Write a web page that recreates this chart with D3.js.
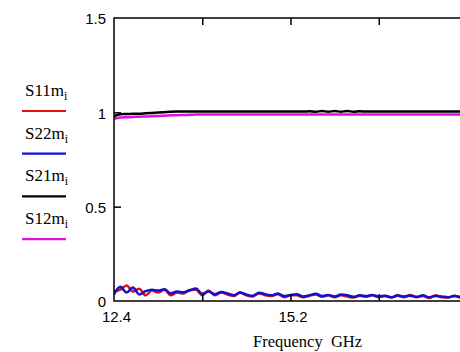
<!DOCTYPE html>
<html><head><meta charset="utf-8">
<script src="https://cdn.jsdelivr.net/npm/d3@7/dist/d3.min.js"></script>
<style>body{margin:0;background:#fff}svg{display:block}</style>
</head><body>
<svg id="c" width="460" height="352"></svg>
<script>
const freq = [12.4,12.5,12.6,12.7,12.8,12.9,13.0,13.1,13.2,13.3,13.4,13.5,13.6,13.7,13.8,13.9,14.0,14.1,14.2,14.3,14.4,14.5,14.6,14.7,14.8,14.9,15.0,15.1,15.2,15.3,15.4,15.5,15.6,15.7,15.8,15.9,16.0,16.1,16.2,16.3,16.4,16.5,16.6,16.7,16.8,16.9,17.0,17.1,17.2,17.3,17.4,17.5,17.6,17.7,17.8,17.9,18.0];
const S11 = [0.050,0.060,0.082,0.050,0.065,0.030,0.055,0.045,0.060,0.030,0.045,0.040,0.058,0.060,0.030,0.055,0.030,0.045,0.034,0.026,0.046,0.030,0.024,0.040,0.030,0.026,0.036,0.020,0.030,0.030,0.020,0.028,0.034,0.022,0.030,0.020,0.030,0.024,0.018,0.028,0.022,0.030,0.020,0.026,0.018,0.028,0.020,0.032,0.020,0.026,0.016,0.030,0.020,0.018,0.028,0.018,0.022];
const S22 = [0.035,0.075,0.045,0.072,0.035,0.052,0.060,0.055,0.062,0.040,0.050,0.046,0.056,0.066,0.038,0.050,0.036,0.048,0.040,0.030,0.044,0.034,0.028,0.044,0.036,0.030,0.040,0.026,0.032,0.036,0.024,0.030,0.038,0.026,0.032,0.024,0.034,0.030,0.022,0.030,0.026,0.032,0.024,0.028,0.020,0.030,0.024,0.028,0.022,0.030,0.020,0.026,0.024,0.020,0.026,0.022,0.024];
const S21 = [0.978,0.990,0.991,0.992,0.993,0.995,0.997,0.999,1.001,1.003,1.004,1.004,1.004,1.004,1.004,1.004,1.004,1.004,1.004,1.004,1.004,1.004,1.004,1.004,1.004,1.004,1.004,1.004,1.004,1.004,1.004,1.006,1.003,1.007,1.003,1.007,1.003,1.007,1.003,1.006,1.004,1.004,1.004,1.004,1.004,1.004,1.004,1.004,1.004,1.004,1.004,1.004,1.004,1.004,1.004,1.004,1.004];
const S12 = [0.966,0.972,0.974,0.975,0.977,0.978,0.979,0.981,0.982,0.984,0.985,0.986,0.987,0.988,0.988,0.988,0.988,0.988,0.988,0.988,0.988,0.988,0.988,0.988,0.988,0.988,0.988,0.988,0.988,0.988,0.988,0.988,0.988,0.988,0.988,0.988,0.988,0.988,0.988,0.988,0.988,0.988,0.988,0.988,0.988,0.988,0.988,0.988,0.988,0.988,0.988,0.988,0.988,0.988,0.988,0.988,0.988];
const xLabels = [12.4, 15.2, 18];
const xTicks = [13.8, 15.2, 16.6];
const yLabels = [0, 0.5, 1, 1.5];
const yTicks = [0.5, 1];
const legend = [
  {name:"S11", color:"#e01010", data:S11},
  {name:"S22", color:"#1010d0", data:S22},
  {name:"S21", color:"#000000", data:S21},
  {name:"S12", color:"#e010e0", data:S12}
];

const svg = d3.select("#c");
const L=114, R=467, T=18, B=301;
const x = d3.scaleLinear().domain([12.4,18]).range([L,R]);
const y = d3.scaleLinear().domain([0,1.5]).range([B,T]);

svg.append("clipPath").attr("id","clip").append("rect")
  .attr("x",L).attr("y",T).attr("width",R-L).attr("height",B-T);

const line = d3.line().x((d,i)=>x(freq[i])).y(d=>y(d)).curve(d3.curveMonotoneX);
const g = svg.append("g").attr("clip-path","url(#clip)");
legend.forEach(s=>{
  g.append("path").datum(s.data).attr("d",line)
   .attr("fill","none").attr("stroke",s.color).attr("stroke-width",2.5)
   .attr("stroke-linejoin","round");
});

// frame
svg.append("rect").attr("x",L).attr("y",T).attr("width",R-L).attr("height",B-T)
  .attr("fill","none").attr("stroke","#000").attr("stroke-width",1.5);

function styleAxis(sel){ sel.select(".domain").remove(); sel.selectAll("line").attr("stroke","#000").attr("stroke-width",1.5); }
// inward ticks
svg.append("g").attr("transform",`translate(0,${T})`).call(d3.axisBottom(x).tickValues(xTicks).tickSize(7).tickFormat("")).call(styleAxis);
svg.append("g").attr("transform",`translate(0,${B})`).call(d3.axisTop(x).tickValues(xTicks).tickSize(7).tickFormat("")).call(styleAxis);
svg.append("g").attr("transform",`translate(${L},0)`).call(d3.axisRight(y).tickValues(yTicks).tickSize(7).tickFormat("")).call(styleAxis);
svg.append("g").attr("transform",`translate(${R},0)`).call(d3.axisLeft(y).tickValues(yTicks).tickSize(7).tickFormat("")).call(styleAxis);

// labels
const xa = svg.append("g").attr("transform",`translate(2,${B})`)
  .call(d3.axisBottom(x).tickValues(xLabels).tickSize(0).tickPadding(10).tickFormat(d=>String(d)));
xa.select(".domain").remove();
xa.selectAll("text").attr("font-family","'Liberation Sans', Arial, sans-serif").attr("font-size",15).attr("fill","#000");

const ya = svg.append("g").attr("transform",`translate(${L},1)`)
  .call(d3.axisLeft(y).tickValues(yLabels).tickSize(0).tickPadding(8).tickFormat(d=>String(d)));
ya.select(".domain").remove();
ya.selectAll("text").attr("font-family","'Liberation Sans', Arial, sans-serif").attr("font-size",15).attr("fill","#000");

svg.append("text").attr("x",253).attr("y",347)
  .attr("font-family","'Liberation Serif', 'Times New Roman', serif").attr("font-size",16.5)
  .attr("fill","#000").attr("xml:space","preserve").text("Frequency  GHz");

// legend
legend.forEach((s,i)=>{
  const ly = 111 + i*42.7;
  const t = svg.append("text").attr("x",25).attr("y",ly-15)
    .attr("font-family","'Liberation Serif', 'Times New Roman', serif").attr("font-size",17).attr("fill","#000");
  t.append("tspan").text(s.name+"m");
  t.append("tspan").attr("dy",4).attr("font-size",12).text("i");
  svg.append("line").attr("x1",22).attr("x2",66).attr("y1",ly).attr("y2",ly)
    .attr("stroke",s.color).attr("stroke-width",2.2);
});
</script>
</body></html>
